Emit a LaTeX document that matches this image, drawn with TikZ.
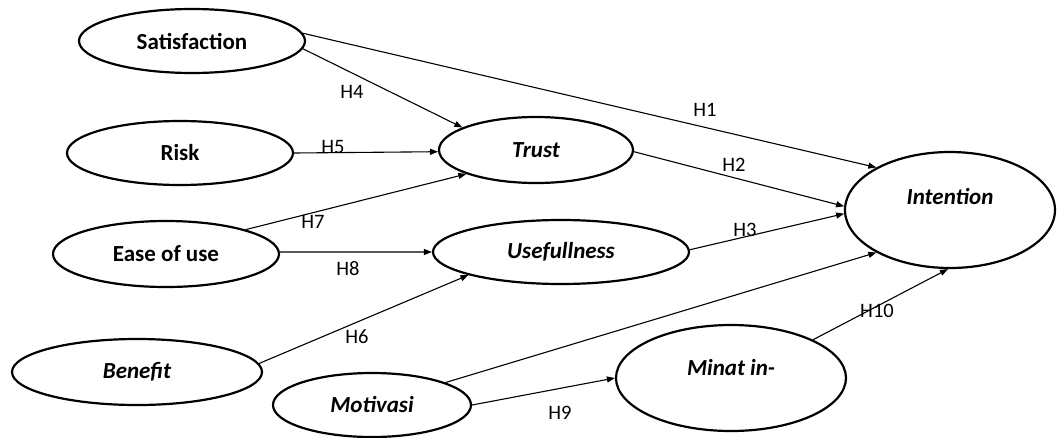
\documentclass[tikz,border=0pt]{standalone}
\usepackage{fontspec}
\setmainfont{Carlito}
\usetikzlibrary{shapes.geometric,arrows.meta}
\begin{document}
\begin{tikzpicture}[x=1pt,y=-1pt,
  var/.style={draw,ellipse,line width=2.2pt,inner sep=0pt,align=center,
    font=\fontsize{23}{27}\selectfont\bfseries},
  ivar/.style={var,font=\fontsize{23}{27}\selectfont\bfseries\itshape},
  link/.style={line width=1.1pt,-{Triangle[length=8pt,width=6pt]}},
  hlab/.style={font=\fontsize{20.5}{24}\selectfont,inner sep=0pt}]
\useasboundingbox (0,0) rectangle (1058,437);
\node[var,minimum width=226pt,minimum height=64pt] (sat) at (192,41) {Satisfaction};
\node[var,minimum width=226pt,minimum height=64pt] (risk) at (180,153) {Risk};
\node[ivar,minimum width=194pt,minimum height=66pt] (trust) at (536,150) {Trust};
\node[var,minimum width=226pt,minimum height=66pt] (ease) at (166,254) {Ease of use};
\node[ivar,minimum width=256pt,minimum height=64pt] (use) at (561,252) {Usefullness};
\node[ivar,minimum width=250pt,minimum height=66pt] (ben) at (137,372) {Benefit};
\node[ivar,minimum width=198pt,minimum height=64pt] (mot) at (372,405) {Motivasi};
\node[ivar,minimum width=230pt,minimum height=106pt] (min) at (731,378) {Minat in-\\[-6pt]\mbox{}};
\node[ivar,minimum width=210pt,minimum height=116pt] (int) at (950,210) {Intention\\\mbox{}};
\draw[link] (sat.4) -- (int.150);
\draw[link] (sat.-4) -- (trust.163);
\draw[link] (risk.0) -- (trust.181);
\draw[link] (ease.17) -- (trust.199);
\draw[link] (trust.359) -- (int.178);
\draw[link] (ease.1) -- (use.180);
\draw[link] (ben.4) -- (use.194);
\draw[link] (use.1) -- (int.182);
\draw[link] (mot.17) -- (int.210);
\draw[link] (mot.0) -- (min.180);
\draw[link] (min.25) -- (int.268);
\node[hlab] (h1) at (705,110) {H1};
\node[hlab] (h2) at (734,165) {H2};
\node[hlab] (h3) at (745,230) {H3};
\node[hlab] (h4) at (352,92) {H4};
\node[hlab] (h5) at (333,147) {H5};
\node[hlab] (h6) at (357,337) {H6};
\node[hlab] (h7) at (313,222) {H7};
\node[hlab] (h8) at (348,269) {H8};
\node[hlab] (h9) at (560,413) {H9};
\node[hlab] (h10) at (877,311) {H10};
\end{tikzpicture}
\end{document}
